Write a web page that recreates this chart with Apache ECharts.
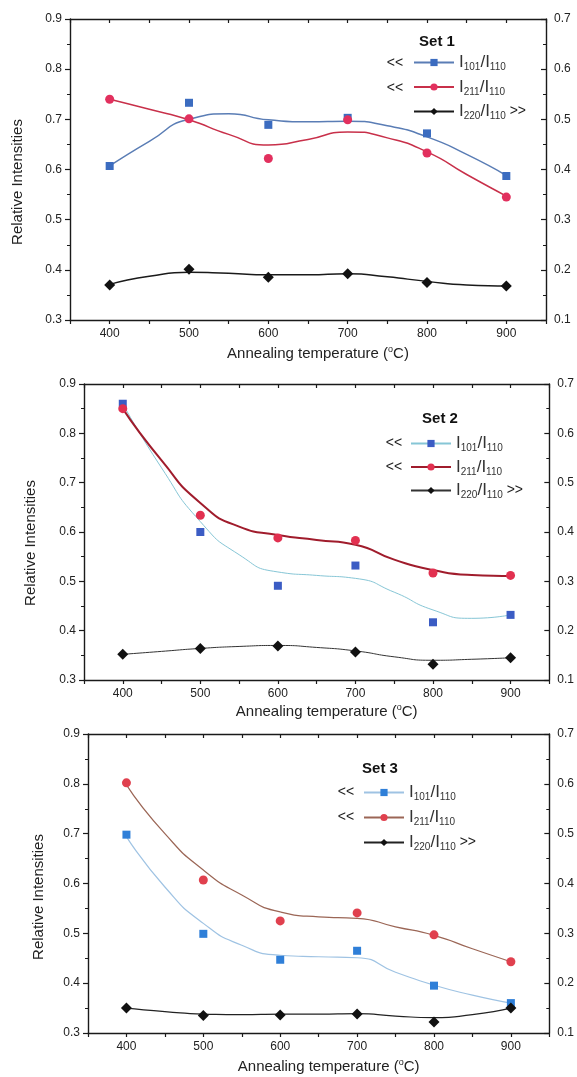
<!DOCTYPE html>
<html><head><meta charset="utf-8">
<script src="https://cdn.jsdelivr.net/npm/echarts@6/dist/echarts.min.js"></script>
<style>html,body{margin:0;padding:0;background:#fff}#c{width:577px;height:1077px}</style>
</head><body><div id="c"></div>
<script>
// ---------------- data ----------------
const temps = [400, 500, 600, 700, 800, 900];
const fitTemps = [400, 450, 500, 550, 600, 650, 700, 750, 800, 850, 900];
const xTickLabels = [400, 500, 600, 700, 800, 900];
const setTitles = ['Set 1', 'Set 2', 'Set 3'];

// Set 1 (I101, I211 on left axis; I220 on right axis)
const set1_I101 = [0.607, 0.733, 0.689, 0.703, 0.672, 0.587];
const set1_I211 = [0.740, 0.701, 0.622, 0.699, 0.633, 0.545];
const set1_I220 = [0.170, 0.201, 0.185, 0.192, 0.175, 0.168];
const set1_fit101 = [0.607, 0.656, 0.700, 0.711, 0.699, 0.695, 0.696, 0.687, 0.665, 0.630, 0.588];
const set1_fit211 = [0.740, 0.720, 0.699, 0.670, 0.649, 0.660, 0.675, 0.663, 0.635, 0.590, 0.547];
const set1_fit220 = [0.171, 0.187, 0.195, 0.193, 0.190, 0.190, 0.192, 0.186, 0.177, 0.170, 0.168];

// Set 2
const set2_I101 = [0.860, 0.600, 0.491, 0.532, 0.417, 0.432];
const set2_I211 = [0.850, 0.634, 0.588, 0.583, 0.517, 0.512];
const set2_I220 = [0.152, 0.164, 0.169, 0.157, 0.132, 0.145];
const set2_fit101 = [0.860, 0.730, 0.621, 0.554, 0.519, 0.512, 0.506, 0.478, 0.442, 0.425, 0.432];
const set2_fit211 = [0.850, 0.745, 0.659, 0.611, 0.594, 0.584, 0.574, 0.544, 0.523, 0.513, 0.511];
const set2_fit220 = [0.152, 0.158, 0.164, 0.168, 0.170, 0.166, 0.159, 0.147, 0.140, 0.142, 0.145];

// Set 3
const set3_I101 = [0.698, 0.499, 0.447, 0.465, 0.395, 0.360];
const set3_I211 = [0.802, 0.607, 0.525, 0.541, 0.497, 0.443];
const set3_I220 = [0.150, 0.135, 0.136, 0.138, 0.122, 0.150];
const set3_fit101 = [0.694, 0.593, 0.520, 0.476, 0.456, 0.453, 0.451, 0.422, 0.396, 0.376, 0.360];
const set3_fit211 = [0.798, 0.700, 0.627, 0.577, 0.543, 0.533, 0.530, 0.513, 0.496, 0.469, 0.443];
const set3_fit220 = [0.150, 0.143, 0.138, 0.137, 0.138, 0.138, 0.139, 0.134, 0.131, 0.137, 0.150];

// ---------------- layout / style ----------------
const FONT = '"Liberation Sans", Arial, sans-serif';
const layouts = [
  { grid: {left: 70, top: 19, width: 476, height: 301}, xGap: 25, yTitle: [18, 182],
    set: [437, 42], arrows: [395, 63, 88], legend: {left: 413, top: 54, itemGap: 6},
    colors: {b: '#3b6cc0', bl: '#5a7db5', bw: 1.5, r: '#e2305e', rl: '#c8304a', rw: 1.5, k: '#111', kl: '#1a1a1a', kw: 1.5} },
  { grid: {left: 84, top: 384, width: 466, height: 296}, xGap: 23, yTitle: [31, 543],
    set: [440, 419], arrows: [394, 443, 467], legend: {left: 410, top: 435, itemGap: 5},
    colors: {b: '#3b5cc4', bl: '#86c6d6', bw: 1, r: '#e23050', rl: '#a01c2c', rw: 2, k: '#111', kl: '#333', kw: 1} },
  { grid: {left: 88, top: 734, width: 467, height: 299}, xGap: 25, yTitle: [39, 897],
    set: [380, 769], arrows: [346, 792, 817], legend: {left: 363, top: 784, itemGap: 6.5},
    colors: {b: '#2f7fd8', bl: '#9fc3e3', bw: 1.2, r: '#e0404e', rl: '#9b6656', rw: 1.2, k: '#111', kl: '#222', kw: 1.2} }
];
const dataSets = [
  {p101: set1_I101, p211: set1_I211, p220: set1_I220, f101: set1_fit101, f211: set1_fit211, f220: set1_fit220},
  {p101: set2_I101, p211: set2_I211, p220: set2_I220, f101: set2_fit101, f211: set2_fit211, f220: set2_fit220},
  {p101: set3_I101, p211: set3_I211, p220: set3_I220, f101: set3_fit101, f211: set3_fit211, f220: set3_fit220}
];

const pairs = (xs, ys) => xs.map((x, k) => [x, ys[k]]);
const legendLabel = {
  '101': '{n|I}{s|101}{n|/I}{s|110}',
  '211': '{n|I}{s|211}{n|/I}{s|110}',
  '220': '{n|I}{s|220}{n|/I}{s|110}{g| >>}'
};
const axisCol = '#1a1a1a';

const grids = [], xAxes = [], yAxes = [], series = [], legends = [], graphics = [];
layouts.forEach((L, i) => {
  const D = dataSets[i], C = L.colors;
  grids.push(Object.assign({show: false, containLabel: false}, L.grid));
  // bottom x axis
  xAxes.push({
    gridIndex: i, type: 'value', position: 'bottom', min: 350, max: 950, interval: 50,
    axisLine: {onZero: false, lineStyle: {color: axisCol, width: 1.4}},
    axisTick: {inside: false, length: 4, lineStyle: {color: axisCol, width: 1.2}},
    axisLabel: {margin: 8, fontSize: 12, color: '#222', fontFamily: FONT,
      formatter: v => (xTickLabels.indexOf(v) >= 0 ? String(v) : '')},
    splitLine: {show: false},
    name: '{n|Annealing temperature (}{sup|o}{n|C)}', nameLocation: 'middle', nameGap: L.xGap,
    nameTextStyle: {padding: [0, 0, 0, 20], rich: {
      n: {fontSize: 15, lineHeight: 18, color: '#222', fontFamily: FONT},
      sup: {fontSize: 9, lineHeight: 9, verticalAlign: 'top', color: '#222', fontFamily: FONT}}}
  });
  // top x axis (frame)
  xAxes.push({
    gridIndex: i, type: 'value', position: 'top', min: 350, max: 950, interval: 50,
    axisLine: {onZero: false, lineStyle: {color: axisCol, width: 1.4}},
    axisTick: {inside: true, length: 4, lineStyle: {color: axisCol, width: 1.2}},
    axisLabel: {show: false}, splitLine: {show: false}
  });
  // left y axis
  yAxes.push({
    gridIndex: i, type: 'value', position: 'left', min: 0.3, max: 0.9, interval: 0.1,
    axisLine: {show: true, onZero: false, lineStyle: {color: axisCol, width: 1.4}},
    axisTick: {show: true, inside: false, length: 5, lineStyle: {color: axisCol, width: 1.2}},
    minorTick: {show: true, splitNumber: 2, length: 3, lineStyle: {color: axisCol, width: 1}},
    axisLabel: {margin: 8, fontSize: 12, color: '#222', fontFamily: FONT, formatter: v => v.toFixed(1)},
    splitLine: {show: false}
  });
  // right y axis
  yAxes.push({
    gridIndex: i, type: 'value', position: 'right', min: 0.1, max: 0.7, interval: 0.1,
    axisLine: {show: true, onZero: false, lineStyle: {color: axisCol, width: 1.4}},
    axisTick: {show: true, inside: true, length: 5, lineStyle: {color: axisCol, width: 1.2}},
    minorTick: {show: true, splitNumber: 2, length: 3, lineStyle: {color: axisCol, width: 1}},
    axisLabel: {margin: 8, fontSize: 12, color: '#222', fontFamily: FONT, formatter: v => v.toFixed(1)},
    splitLine: {show: false}
  });
  const xa = i * 2, ya = i * 2, yb = i * 2 + 1;
  const tag = ' (' + setTitles[i] + ')';
  // fitted curves (legend entries come from these)
  series.push({name: 'I101/I110' + tag, type: 'line', smooth: 0.6, xAxisIndex: xa, yAxisIndex: ya,
    data: pairs(fitTemps, D.f101), showSymbol: false, symbol: 'rect', symbolSize: 8,
    itemStyle: {color: C.b}, lineStyle: {color: C.bl, width: C.bw}, z: 2});
  series.push({name: 'I211/I110' + tag, type: 'line', smooth: 0.6, xAxisIndex: xa, yAxisIndex: ya,
    data: pairs(fitTemps, D.f211), showSymbol: false, symbol: 'circle', symbolSize: 9,
    itemStyle: {color: C.r}, lineStyle: {color: C.rl, width: C.rw}, z: 2});
  series.push({name: 'I220/I110' + tag, type: 'line', smooth: 0.6, xAxisIndex: xa, yAxisIndex: yb,
    data: pairs(fitTemps, D.f220), showSymbol: false, symbol: 'diamond', symbolSize: 10,
    itemStyle: {color: C.k}, lineStyle: {color: C.kl, width: C.kw}, z: 2});
  // measured points
  series.push({name: 'I101 points' + tag, type: 'scatter', xAxisIndex: xa, yAxisIndex: ya,
    data: pairs(temps, D.p101), symbol: 'rect', symbolSize: 8, itemStyle: {color: C.b, opacity: 1}, z: 3});
  series.push({name: 'I211 points' + tag, type: 'scatter', xAxisIndex: xa, yAxisIndex: ya,
    data: pairs(temps, D.p211), symbol: 'circle', symbolSize: 9, itemStyle: {color: C.r, opacity: 1}, z: 3});
  series.push({name: 'I220 points' + tag, type: 'scatter', xAxisIndex: xa, yAxisIndex: yb,
    data: pairs(temps, D.p220), symbol: 'diamond', symbolSize: 11, itemStyle: {color: C.k, opacity: 1}, z: 3});
  legends.push({
    orient: 'vertical', left: L.legend.left, top: L.legend.top, itemGap: L.legend.itemGap,
    itemWidth: 40, itemHeight: 9, itemTextGap: 3, selectedMode: false, padding: 0,
    data: ['I101/I110' + tag, 'I211/I110' + tag, 'I220/I110' + tag],
    formatter: name => legendLabel[name.substr(1, 3)],
    textStyle: {color: '#222', fontFamily: FONT, fontSize: 17, rich: {
      n: {fontSize: 17, lineHeight: 20, color: '#333', fontFamily: FONT},
      s: {fontSize: 10, lineHeight: 10, verticalAlign: 'bottom', color: '#333', fontFamily: FONT},
      g: {fontSize: 14, lineHeight: 20, color: '#222', fontFamily: FONT}}}
  });
  graphics.push({type: 'text', x: L.set[0], y: L.set[1], z: 10,
    style: {text: setTitles[i], font: 'bold 15px ' + FONT, fill: '#111', align: 'center', verticalAlign: 'middle', textAlign: 'center', textVerticalAlign: 'middle'}});
  [L.arrows[1], L.arrows[2]].forEach(yy => graphics.push({type: 'text', x: L.arrows[0], y: yy, z: 10,
    style: {text: '<<', font: '14px ' + FONT, fill: '#222', align: 'center', verticalAlign: 'middle', textAlign: 'center', textVerticalAlign: 'middle'}}));
  graphics.push({type: 'text', x: L.yTitle[0], y: L.yTitle[1], rotation: Math.PI / 2, z: 10,
    style: {text: 'Relative Intensities', font: '15px ' + FONT, fill: '#222', align: 'center', verticalAlign: 'middle', textAlign: 'center', textVerticalAlign: 'middle'}});
});

const chart = echarts.init(document.getElementById('c'), null, {renderer: 'canvas'});
chart.setOption({
  animation: false,
  backgroundColor: '#fff',
  textStyle: {fontFamily: FONT},
  grid: grids, xAxis: xAxes, yAxis: yAxes, series: series, legend: legends,
  graphic: {elements: graphics}
});
</script></body></html>
